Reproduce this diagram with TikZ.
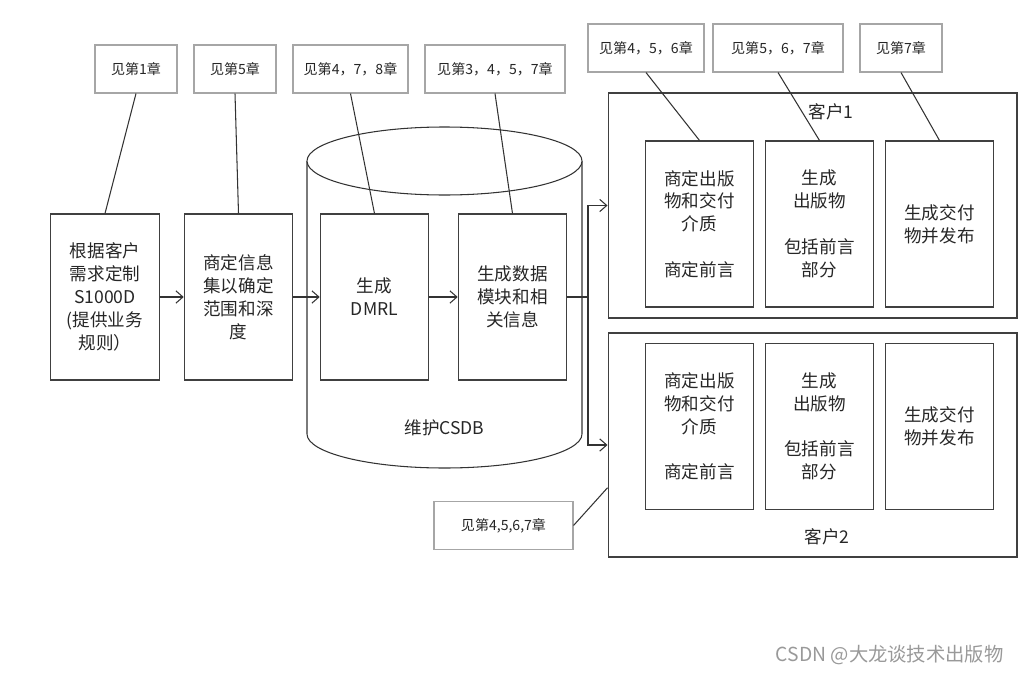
\documentclass[tikz,border=0pt]{standalone}
\usepackage{fontspec}
\setmainfont{Noto Sans CJK SC}
\usetikzlibrary{arrows.meta,calc}

\tikzset{
    stepbox/.style={draw=black!75, minimum width=2.17cm, minimum height=3.32cm,
        align=center, inner sep=0pt, text=black!85, font=\fontsize{10}{13}\selectfont},
    notebox/.style={draw=black!35, minimum height=0.96cm, inner sep=0pt,
        text=black!85, font=\fontsize{8}{10}\selectfont},
    clientbox/.style={draw=black!75, minimum width=8.18cm},
    tag/.style={text=black!85, font=\fontsize{10}{13}\selectfont},
}

\begin{document}
\begin{tikzpicture}[x=0.02cm, y=-0.02cm, line width=0.6pt,
    >={Straight Barb[length=4pt,width=7pt]}]
    \useasboundingbox (0,0) rectangle (1024,676);

    % the CSDB drum
    \draw[black!80] (307,161) -- (307,434)
      arc[start angle=180, end angle=0, x radius=137.5, y radius=34] -- (582,161);
    \draw[black!80, fill=white] (444.5,161) ellipse [x radius=137.5, y radius=34];
    \node[tag] (csdb) at (444.5,428) {维护CSDB};

    % main chain
    \node[stepbox] (req) at (105,297) {根据客户\\需求定制\\S1000D\\(提供业务\\规则）};
    \node[stepbox] (scope) at (238.5,297) {商定信息\\集以确定\\范围和深\\度};
    \node[stepbox] (dmrl) at (374.5,297) {生成\\DMRL};
    \node[stepbox] (dm) at (512.5,297) {生成数据\\模块和相\\关信息};

    % customers
    \node[clientbox, minimum height=4.5cm] (cust1) at (812.5,205.5) {};
    \node[clientbox, minimum height=4.48cm] (cust2) at (812.5,445) {};
    \node[tag] (cust1lbl) at (831,112) {客户1};
    \node[tag] (cust2lbl) at (827,537) {客户2};

    \node[stepbox] (media1) at (699.5,224) {商定出版\\物和交付\\介质\\[13pt]商定前言};
    \node[stepbox] (pub1) at (819.5,224) {生成\\出版物\\[13pt]包括前言\\部分};
    \node[stepbox] (issue1) at (939.5,224) {生成交付\\物并发布};
    \node[stepbox] (media2) at (699.5,426.5) {商定出版\\物和交付\\介质\\[13pt]商定前言};
    \node[stepbox] (pub2) at (819.5,426.5) {生成\\出版物\\[13pt]包括前言\\部分};
    \node[stepbox] (issue2) at (939.5,426.5) {生成交付\\物并发布};

    % chapter notes
    \node[notebox, minimum width=1.64cm] (ch1) at (136,69) {见第1章};
    \node[notebox, minimum width=1.64cm] (ch5) at (235,69) {见第5章};
    \node[notebox, minimum width=2.3cm] (ch478) at (350.5,69) {见第4，7，8章};
    \node[notebox, minimum width=2.8cm] (ch3457) at (495,69) {见第3，4，5，7章};
    \node[notebox, minimum width=2.32cm] (ch456) at (646,48) {见第4，5，6章};
    \node[notebox, minimum width=2.6cm] (ch567) at (778,48) {见第5，6，7章};
    \node[notebox, minimum width=1.64cm] (ch7) at (901,48) {见第7章};
    \node[notebox, minimum width=2.78cm] (ch4567) at (503.5,525.5) {见第4,5,6,7章};

    \draw[black!80] (ch1.south) -- (req.north);
    \draw[black!80] (ch5.south) -- (scope.north);
    \draw[black!80] (ch478.south) -- (dmrl.north);
    \draw[black!80] (ch3457.south) -- (dm.north);
    \draw[black!80] (ch456.south) -- (media1.north);
    \draw[black!80] (ch567.south) -- (pub1.north);
    \draw[black!80] (ch7.south) -- (issue1.north);
    \draw[black!80] (ch4567.east) -- ($(cust2.south west)!0.31!(cust2.north west)$);

    % flow
    \draw[->, black!80] (req) -- (scope);
    \draw[->, black!80] (scope) -- (dmrl);
    \draw[->, black!80] (dmrl) -- (dm);
    \coordinate (split) at (588,297);
    \draw[black!80] (dm) -- (split);
    \draw[->, black!80] (split) |- (cust1.west);
    \draw[->, black!80] (split) |- (cust2.west);

    \node[text=black!40, font=\fontsize{11}{13}\selectfont, anchor=east] (mark) at (1010,655) {CSDN @大龙谈技术出版物};
\end{tikzpicture}
\end{document}
